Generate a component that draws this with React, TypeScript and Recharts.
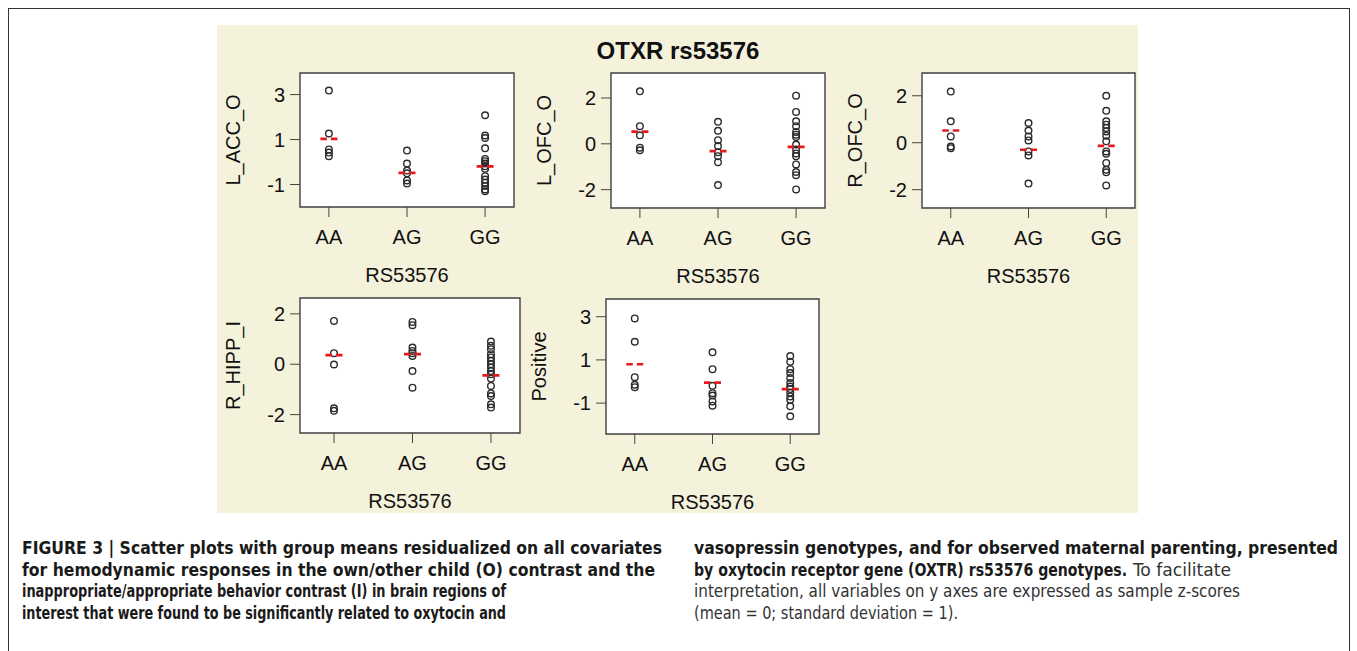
import React from 'react';
import { ScatterChart, Scatter, XAxis, YAxis, ReferenceArea } from 'recharts';

const FONT = '"Liberation Sans", Arial, Helvetica, sans-serif';
const CAPTION_FONT = '"Liberation Sans Narrow", "DejaVu Sans Condensed", "Liberation Sans", Arial, sans-serif';

const GENOTYPES = ['AA', 'AG', 'GG'];
const X_TITLE = 'RS53576';
const TITLE = 'OTXR rs53576';

// L_ACC_O
const lAccAA = [3.18, 1.27, 0.56, 0.42, 0.26];
const lAccAG = [0.51, -0.07, -0.38, -0.5, -0.82, -0.96];
const lAccGG = [2.08, 1.18, 1.07, 0.61, 0.14, 0.04, -0.07, -0.19, -0.3, -0.63, -0.78, -0.92, -1.07, -1.22, -1.3];
const lAccMeans = [1.03, -0.48, -0.19];
const lAccTicks = [-1, 1, 3];

// L_OFC_O
const lOfcAA = [2.29, 0.77, 0.37, -0.17, -0.28];
const lOfcAG = [0.96, 0.57, 0.16, -0.1, -0.37, -0.54, -0.8, -1.8];
const lOfcGG = [2.1, 1.39, 0.98, 0.77, 0.52, 0.4, 0.3, -0.03, -0.25, -0.42, -0.54, -0.9, -1.23, -1.37, -1.99];
const lOfcMeans = [0.53, -0.32, -0.13];
const lOfcTicks = [-2, 0, 2];

// R_OFC_O
const rOfcAA = [2.18, 0.91, 0.27, -0.16, -0.23];
const rOfcAG = [0.84, 0.52, 0.27, 0.1, -0.37, -0.54, -1.74];
const rOfcGG = [2.0, 1.36, 0.91, 0.77, 0.63, 0.48, 0.3, 0.06, -0.37, -0.47, -0.86, -1.15, -1.26, -1.82];
const rOfcMeans = [0.52, -0.3, -0.13];
const rOfcTicks = [-2, 0, 2];

// R_HIPP_I
const rHippAA = [1.72, 0.44, -0.01, -1.75, -1.85];
const rHippAG = [1.68, 1.55, 0.66, 0.53, 0.44, 0.33, -0.27, -0.93];
const rHippGG = [0.9, 0.73, 0.6, 0.4, 0.27, 0.13, 0, -0.13, -0.27, -0.4, -0.57, -0.86, -1.16, -1.26, -1.59, -1.72];
const rHippMeans = [0.36, 0.4, -0.44];
const rHippTicks = [-2, 0, 2];

// Positive
const posAA = [2.92, 1.84, 0.2, -0.15, -0.26];
const posAG = [1.35, 0.57, -0.2, -0.54, -0.65, -0.92, -1.12];
const posGG = [1.18, 0.92, 0.57, 0.39, 0.16, -0.07, -0.23, -0.35, -0.51, -0.69, -0.84, -1.15, -1.61];
const posMeans = [0.8, -0.05, -0.35];
const posTicks = [-1, 1, 3];

type CaptionRun = { text: string; x: number; line: number; width: number; bold: boolean };

const CAPTION_RUNS: CaptionRun[] = [
  { text: 'FIGURE 3 | Scatter plots with group means residualized on all covariates', x: 22, line: 0, width: 640, bold: true },
  { text: 'for hemodynamic responses in the own/other child (O) contrast and the', x: 22, line: 1, width: 633, bold: true },
  { text: 'inappropriate/appropriate behavior contrast (I) in brain regions of', x: 22, line: 2, width: 484, bold: true },
  { text: 'interest that were found to be significantly related to oxytocin and', x: 22, line: 3, width: 484, bold: true },
  { text: 'vasopressin genotypes, and for observed maternal parenting, presented', x: 694, line: 0, width: 644, bold: true },
  { text: 'by oxytocin receptor gene (OXTR) rs53576 genotypes.', x: 694, line: 1, width: 433, bold: true },
  { text: 'To facilitate', x: 1133, line: 1, width: 98, bold: false },
  { text: 'interpretation, all variables on y axes are expressed as sample z-scores', x: 694, line: 2, width: 546, bold: false },
  { text: '(mean = 0; standard deviation = 1).', x: 694, line: 3, width: 264, bold: false },
];

type Box = { l: number; t: number; r: number; b: number };
type PanelDef = {
  ylabel: string;
  groups: number[][];
  means: number[];
  yTicks: number[];
  yDomain: [number, number];
  xDomain: [number, number];
  box: Box;
};

const PANELS: PanelDef[] = [
  { ylabel: 'L_ACC_O', groups: [lAccAA, lAccAG, lAccGG], means: lAccMeans, yTicks: lAccTicks, yDomain: [-2, 3.96], xDomain: [0.63, 3.37], box: { l: 300, t: 73, r: 514, b: 207 } },
  { ylabel: 'L_OFC_O', groups: [lOfcAA, lOfcAG, lOfcGG], means: lOfcMeans, yTicks: lOfcTicks, yDomain: [-2.8, 3.09], xDomain: [0.63, 3.37], box: { l: 611, t: 73, r: 825, b: 208 } },
  { ylabel: 'R_OFC_O', groups: [rOfcAA, rOfcAG, rOfcGG], means: rOfcMeans, yTicks: rOfcTicks, yDomain: [-2.78, 2.97], xDomain: [0.63, 3.37], box: { l: 922, t: 73, r: 1135, b: 208 } },
  { ylabel: 'R_HIPP_I', groups: [rHippAA, rHippAG, rHippGG], means: rHippMeans, yTicks: rHippTicks, yDomain: [-2.73, 2.63], xDomain: [0.567, 3.37], box: { l: 300, t: 298, r: 520, b: 433 } },
  { ylabel: 'Positive', groups: [posAA, posAG, posGG], means: posMeans, yTicks: posTicks, yDomain: [-2.43, 3.82], xDomain: [0.63, 3.37], box: { l: 606, t: 299, r: 819, b: 434 } },
];

const Circle = (props: any) => (
  <circle cx={props.cx} cy={props.cy} r={3.3} fill="none" stroke="#2b2b2b" strokeWidth={1.4} />
);

const MeanDash = (props: any) => (
  <line
    x1={props.cx - 8.5}
    x2={props.cx + 8.5}
    y1={props.cy}
    y2={props.cy}
    stroke="#e41a1c"
    strokeWidth={2.7}
    strokeDasharray="6.5 4"
  />
);

const XTitle = (props: any) => {
  const vb = props.viewBox || {};
  return (
    <text x={vb.x + vb.width / 2} y={vb.y + 75.2} textAnchor="middle" fontSize={20} fontFamily={FONT} fill="#111">
      {X_TITLE}
    </text>
  );
};

const YTitle = (props: any) => {
  const vb = props.viewBox || {};
  const cx = vb.x + vb.width - 67;
  const cy = vb.y + vb.height / 2;
  return (
    <text
      x={cx}
      y={cy}
      dy={7.2}
      transform={`rotate(-90 ${cx} ${cy})`}
      textAnchor="middle"
      fontSize={20}
      fontFamily={FONT}
      fill="#111"
    >
      {props.text}
    </text>
  );
};

const Panel = ({ p }: { p: PanelDef }) => {
  const { l, t, r, b } = p.box;
  const W = r - l + 100;
  const H = b - t + 90;
  const points = p.groups.flatMap((vals, gi) => vals.map((v) => ({ x: gi + 1, y: v })));
  const means = p.means.map((m, i) => ({ x: i + 1, y: m }));
  return (
    <div style={{ position: 'absolute', left: l - 90, top: t - 10 }}>
      <ScatterChart width={W} height={H} margin={{ top: 10, right: 10, bottom: 0, left: 0 }}>
        <XAxis
          type="number"
          dataKey="x"
          domain={p.xDomain}
          ticks={[1, 2, 3]}
          interval={0}
          allowDataOverflow
          height={80}
          tickSize={10}
          tickMargin={13}
          axisLine={false}
          tickLine={{ stroke: '#444' }}
          tick={{ fill: '#111', fontSize: 20, fontFamily: FONT }}
          tickFormatter={(v: number) => GENOTYPES[v - 1]}
          label={<XTitle />}
        />
        <YAxis
          type="number"
          dataKey="y"
          domain={p.yDomain}
          ticks={p.yTicks}
          interval={0}
          allowDataOverflow
          width={90}
          tickSize={10}
          tickMargin={5}
          axisLine={false}
          tickLine={{ stroke: '#444' }}
          tick={{ fill: '#111', fontSize: 20, fontFamily: FONT }}
          label={<YTitle text={p.ylabel} />}
        />
        <ReferenceArea
          x1={p.xDomain[0]}
          x2={p.xDomain[1]}
          y1={p.yDomain[0]}
          y2={p.yDomain[1]}
          fill="#ffffff"
          fillOpacity={1}
          stroke="#3f3f3f"
          strokeWidth={1.4}
        />
        <Scatter data={points} shape={Circle} isAnimationActive={false} />
        <Scatter data={means} shape={MeanDash} isAnimationActive={false} />
      </ScatterChart>
    </div>
  );
};

const CAPTION_BASELINES = [554, 575.5, 597, 618.5];

export default function App() {
  return (
    <div style={{ position: 'fixed', left: 0, top: 0, width: 1357, height: 651, overflow: 'hidden', background: '#fff' }}>
      <div
        style={{
          position: 'absolute',
          left: 8,
          top: 8,
          width: 1342,
          height: 700,
          boxSizing: 'border-box',
          borderTop: '1px solid #333',
          borderLeft: '1px solid #333',
          borderRight: '1px solid #333',
        }}
      />
      <div style={{ position: 'absolute', left: 217, top: 25, width: 921, height: 488, background: '#f5f2dc' }} />
      <svg style={{ position: 'absolute', left: 0, top: 0 }} width={1357} height={651}>
        <text x={678} y={58.6} textAnchor="middle" fontWeight="bold" fontSize={24} fontFamily={FONT} fill="#111">
          {TITLE}
        </text>
        {CAPTION_RUNS.map((run, i) => (
          <text
            key={'c' + i}
            x={run.x}
            y={CAPTION_BASELINES[run.line]}
            fontSize={17.5}
            fontWeight={run.bold ? 'bold' : 'normal'}
            fontFamily={CAPTION_FONT}
            fill={run.bold ? '#1a1a1a' : '#333'}
            textLength={run.width}
            lengthAdjust="spacingAndGlyphs"
          >
            {run.text}
          </text>
        ))}
      </svg>
      {PANELS.map((p) => (
        <Panel key={p.ylabel} p={p} />
      ))}
    </div>
  );
}
